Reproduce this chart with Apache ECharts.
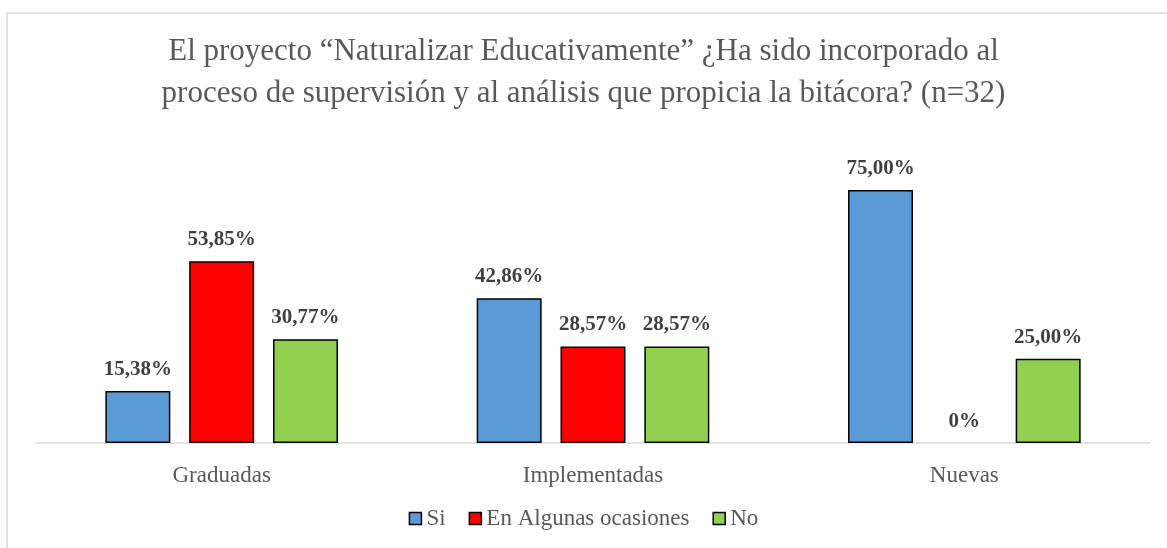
<!DOCTYPE html>
<html><head><meta charset="utf-8">
<script src="https://cdn.jsdelivr.net/npm/echarts@6/dist/echarts.min.js"></script>
<style>html,body{margin:0;padding:0;background:#fff}#c{width:1167px;height:548px}</style>
</head><body><div id="c"></div>
<script>
const categories = ['Graduadas', 'Implementadas', 'Nuevas'];
const seriesNames = ['Si', 'En Algunas ocasiones', 'No'];
const si = [15.38, 42.86, 75.00];
const algunas = [53.85, 28.57, 0];
const no = [30.77, 28.57, 25.00];
const colors = ['#5B9BD5', '#FF0000', '#92D050'];
const FONT = '"Liberation Serif", "DejaVu Serif", serif';

const fmt = p => p.value === 0 ? '0%' : p.value.toFixed(2).replace('.', ',') + '%';
const mk = (name, data, color) => ({
  name, type: 'bar',
  data: data.map(v => v === 0 ? { value: v, itemStyle: { borderWidth: 0 } } : v),
  barWidth: '17.5%', barGap: '29%',
  itemStyle: { color, borderColor: '#000', borderWidth: 1.5 },
  label: { show: true, position: 'top', distance: 11, formatter: fmt,
    fontFamily: FONT, fontSize: 21, fontWeight: 'bold', color: '#404040' }
});

const chart = echarts.init(document.getElementById('c'), null, { renderer: 'canvas' });
chart.setOption({
  animation: false,
  backgroundColor: '#fff',
  graphic: [{ type: 'rect', shape: { x: 7, y: 13, width: 1200, height: 600 },
    style: { fill: 'none', stroke: '#d9d9d9', lineWidth: 1.5 }, silent: true, z: -1 }],
  title: {
    text: 'El proyecto “Naturalizar Educativamente” ¿Ha sido incorporado al\nproceso de supervisión y al análisis que propicia la bitácora? (n=32)',
    left: 'center', top: 26,
    textStyle: { fontFamily: FONT, fontSize: 31, fontWeight: 'normal', color: '#595959', lineHeight: 42 }
  },
  legend: {
    data: seriesNames, bottom: 13, left: 'center',
    itemWidth: 12, itemHeight: 12, itemGap: 23,
    icon: 'rect',
    itemStyle: { borderColor: '#000', borderWidth: 1.5 },
    textStyle: { fontFamily: FONT, fontSize: 23, color: '#595959' }
  },
  grid: { left: 36, right: 17, top: 173, bottom: 105, containLabel: false },
  xAxis: {
    type: 'category', data: categories,
    axisLine: { lineStyle: { color: '#d9d9d9', width: 1.5 } },
    axisTick: { show: false },
    axisLabel: { fontFamily: FONT, fontSize: 23, color: '#595959', margin: 21 }
  },
  yAxis: { type: 'value', min: 0, max: 80, show: false, splitLine: { show: false } },
  series: [mk(seriesNames[0], si, colors[0]), mk(seriesNames[1], algunas, colors[1]), mk(seriesNames[2], no, colors[2])]
});
</script></body></html>
